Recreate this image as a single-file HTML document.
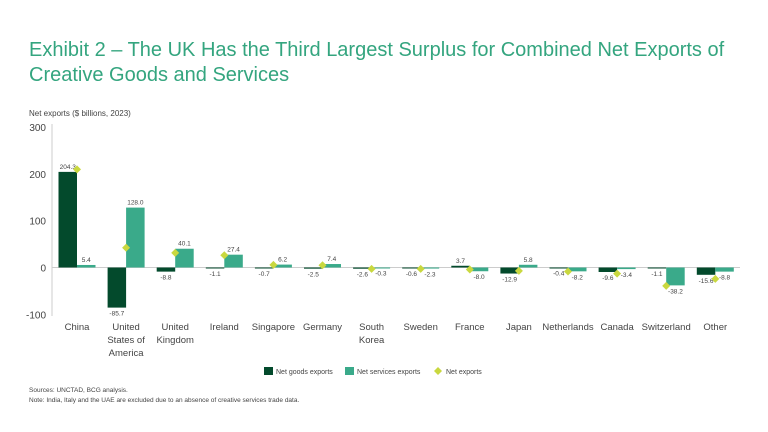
<!DOCTYPE html>
<html><head><meta charset="utf-8"><style>
body{margin:0;width:768px;height:432px;background:#fff;font-family:"Liberation Sans",sans-serif;overflow:hidden}
#title{position:absolute;left:29px;top:38px;font-size:20px;line-height:25px;color:#34a57f}
.note{position:absolute;left:29px;font-size:6.5px;color:#444}
</style></head><body>
<div id="title">Exhibit 2 – The UK Has the Third Largest Surplus for Combined Net Exports of<br>Creative Goods and Services</div>
<svg id="chart" width="768" height="432" style="position:absolute;left:0;top:0"></svg>
<div class="note" style="top:387px">Sources: UNCTAD, BCG analysis.</div>
<div class="note" style="top:397px">Note: India, Italy and the UAE are excluded due to an absence of creative services trade data.</div>
<script>
const categories=[["China"],["United","States of","America"],["United","Kingdom"],["Ireland"],["Singapore"],["Germany"],["South","Korea"],["Sweden"],["France"],["Japan"],["Netherlands"],["Canada"],["Switzerland"],["Other"]];
const goods=[204.3,-85.7,-8.8,-1.1,-0.7,-2.5,-2.6,-0.6,3.7,-12.9,-0.4,-9.6,-1.1,-15.6];
const services=[5.4,128.0,40.1,27.4,6.2,7.4,-0.3,-2.3,-8.0,5.8,-8.2,-3.4,-38.2,-8.8];
const yTicks=[300,200,100,0,-100];
const NS="http://www.w3.org/2000/svg",svg=document.getElementById('chart');
const y=v=>267.5-v*0.468, x=i=>77+i*49.1, bw=18.5;
function mk(t,a,txt){const e=document.createElementNS(NS,t);for(const k in a)e.setAttribute(k,a[k]);if(txt!==undefined)e.textContent=txt;svg.appendChild(e);return e;}
let e=mk('text',{x:29,y:116,'font-size':8,fill:'#444'},'Net exports ($ billions, 2023)');

e=mk('line',{x1:52,x2:52,y1:124,y2:316,stroke:'#ccc'});

yTicks.forEach(t=>{const l=mk('text',{x:46,y:y(t)+4,'font-size':10,fill:'#444','text-anchor':'end'},t);
});
e=mk('line',{x1:52,x2:740,y1:y(0),y2:y(0),stroke:'#ccc'});

const lab=(v,cx)=>{const top=v>=0;const t=mk('text',{x:cx,y:top?y(v)-3:y(v)+8,'font-size':6.5,fill:'#444','text-anchor':'middle'},v.toFixed(1));
};
categories.forEach((c,i)=>{
 const cx=x(i);
 const g=goods[i],s=services[i];
 let r=mk('rect',{x:cx-bw,y:Math.min(y(g),y(0)),width:bw,height:Math.max(Math.abs(y(g)-y(0)),1),fill:'#034a2c'});
 
 r=mk('rect',{x:cx,y:Math.min(y(s),y(0)),width:bw,height:Math.max(Math.abs(y(s)-y(0)),1),fill:'#3aaa8a'});
 
 lab(g,cx-bw/2);lab(s,cx+bw/2);
 const n=g+s,ny=y(n);
 const d=mk('path',{d:`M${cx} ${ny-4}L${cx+4} ${ny}L${cx} ${ny+4}L${cx-4} ${ny}Z`,fill:'#c9d83f'});
 
 c.forEach((ln,k)=>{const t=mk('text',{x:cx,y:330+k*13,'font-size':9.5,fill:'#444','text-anchor':'middle'},ln);
 });
});
const leg=[['rect','#034a2c','Net goods exports',264],['rect','#3aaa8a','Net services exports',345],['dia','#c9d83f','Net exports',434]];
leg.forEach(([k,col,txt,lx])=>{
 let m;
 if(k=='rect')m=mk('rect',{x:lx,y:367,width:9,height:8,fill:col});
 else m=mk('path',{d:`M${lx+4} 367L${lx+8} 371L${lx+4} 375L${lx} 371Z`,fill:col});
 
 const t=mk('text',{x:lx+12,y:374,'font-size':7,fill:'#444'},txt);
 
});
</script>
</body></html>
